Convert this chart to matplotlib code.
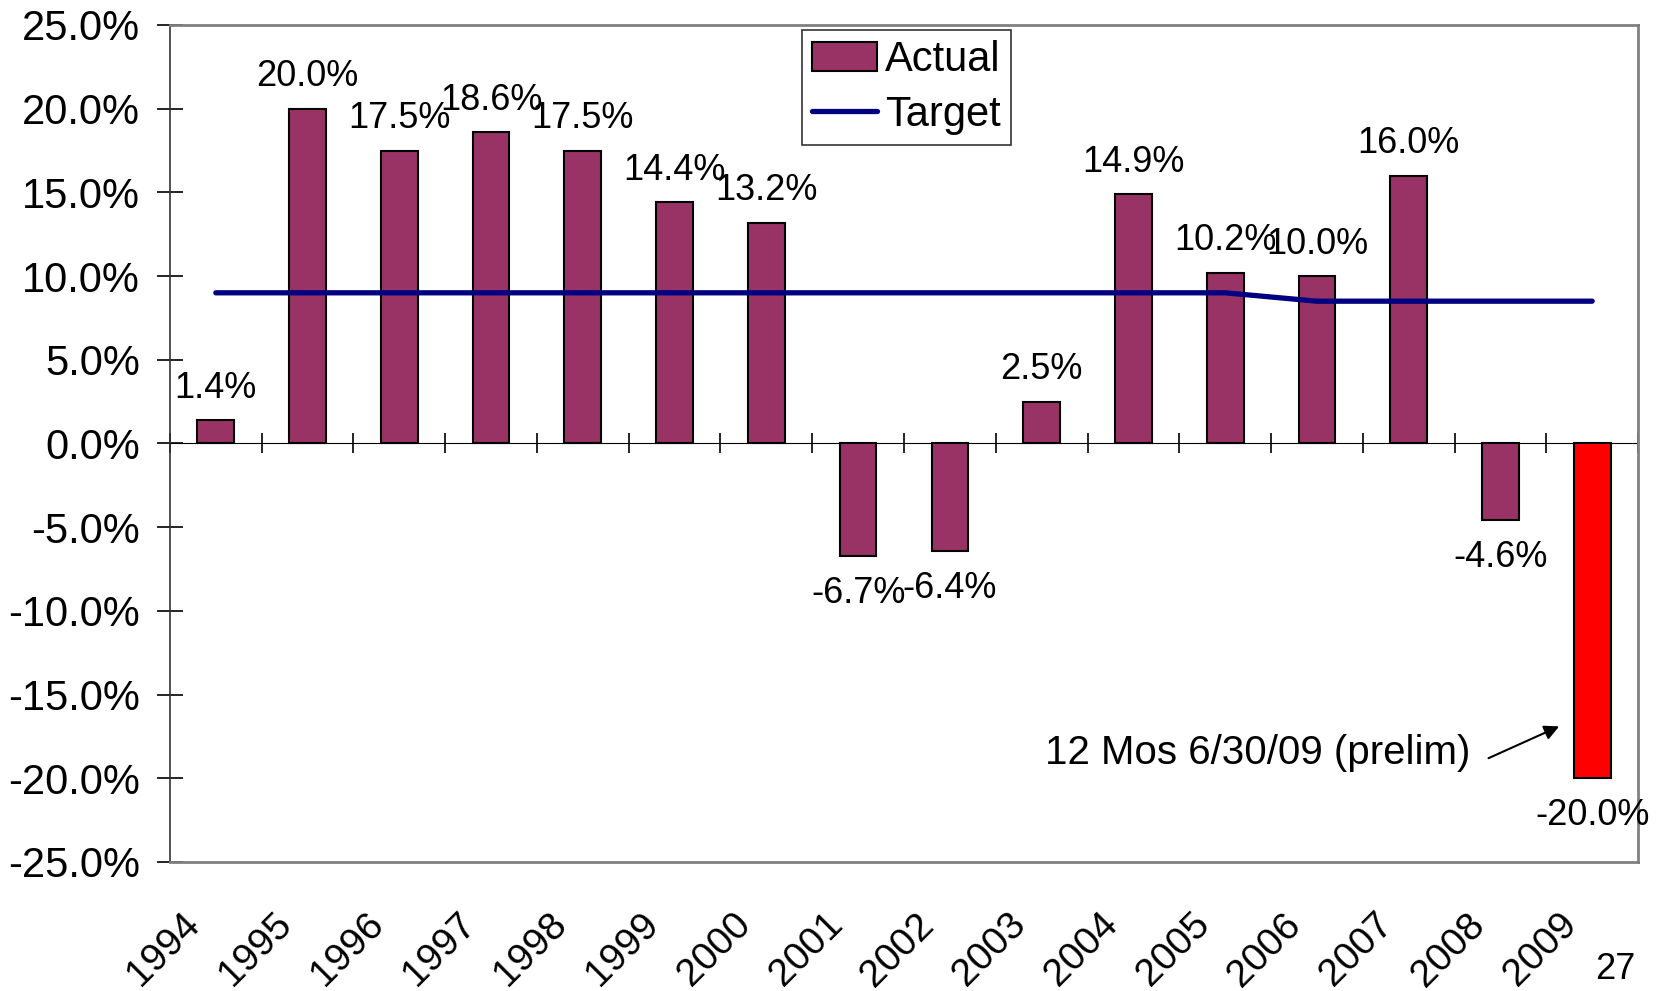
import numpy as np
import matplotlib
matplotlib.use("Agg")
import matplotlib.pyplot as plt
import matplotlib.transforms as mtransforms
from matplotlib.ticker import FuncFormatter

plt.rcParams['font.family'] = ['Liberation Sans', 'DejaVu Sans']

years = ['1994', '1995', '1996', '1997', '1998', '1999', '2000', '2001',
         '2002', '2003', '2004', '2005', '2006', '2007', '2008', '2009']
actual = [1.4, 20.0, 17.5, 18.6, 17.5, 14.4, 13.2, -6.7,
          -6.4, 2.5, 14.9, 10.2, 10.0, 16.0, -4.6, -20.0]
target = [9.0, 9.0, 9.0, 9.0, 9.0, 9.0, 9.0, 9.0,
          9.0, 9.0, 9.0, 9.0, 8.5, 8.5, 8.5, 8.5]

x = np.arange(len(years))
colors = ['#993366'] * (len(years) - 1) + ['#FF0000']

fig = plt.figure(figsize=(16.61, 9.91), dpi=100)
ax = fig.add_axes([0.1023, 0.1302, 0.8839, 0.8446])

bars = ax.bar(x, actual, width=0.4, color=colors, edgecolor='black', lw=1.5,
              label='Actual', zorder=2)
line, = ax.plot(x, target, color='#000080', lw=3.8, solid_capstyle='round',
                label='Target', zorder=3)

# data labels
for xi, v in zip(x, actual):
    off = 23 if v >= 0 else -27
    ax.annotate('%.1f%%' % v, (xi, v), xytext=(0, off), textcoords='offset points',
                ha='center', va='center', fontsize=26)

ax.set_xlim(-0.5, len(years) - 0.5)
ax.set_ylim(-25, 25)
ax.set_yticks(np.arange(-25, 26, 5))
ax.yaxis.set_major_formatter(FuncFormatter(lambda v, p: '%.1f%%' % v))
ax.tick_params(axis='y', direction='inout', length=19, width=1.2, labelsize=30, pad=12)

# year labels along the bottom
ax.set_xticks(x)
ax.set_xticklabels(years, rotation=45, ha='right', rotation_mode='anchor', fontsize=28)
ax.tick_params(axis='x', length=0, pad=32)
shift = mtransforms.ScaledTranslation(-0.34, 0, fig.dpi_scale_trans)
for lab in ax.get_xticklabels():
    lab.set_transform(lab.get_transform() + shift)

for s in ['top', 'right', 'bottom']:
    ax.spines[s].set_color('#808080')
    ax.spines[s].set_linewidth(2)
ax.spines['left'].set_color('#333333')
ax.spines['left'].set_linewidth(1.2)

# category axis at zero with tick marks between bars
sec = ax.secondary_xaxis(0.5)
sec.set_xticks(np.arange(-0.5, len(years), 1.0))
sec.set_xticklabels([])
sec.tick_params(direction='inout', length=15, width=1.2)
sec.spines['bottom'].set_color('black')
sec.spines['bottom'].set_linewidth(1.2)

leg = ax.legend([bars, line], ['Actual', 'Target'], loc='upper left',
                bbox_to_anchor=(0.4828, 0.9697), bbox_transform=fig.transFigure,
                fontsize=30, frameon=True, fancybox=False, borderpad=0.25,
                handlelength=1.55, handletextpad=0.2, labelspacing=0.35, borderaxespad=0)
leg.get_frame().set_edgecolor('black')
leg.get_frame().set_linewidth(1.2)

ax.text(13.67, -18.5, '12 Mos 6/30/09 (prelim)', ha='right', va='center', fontsize=29)
ax.annotate('', xy=(14.64, -16.9), xytext=(13.87, -18.8),
            arrowprops=dict(arrowstyle='-|>', color='black', lw=1.5, mutation_scale=22,
                            shrinkA=0, shrinkB=0))

fig.text(0.9723, 0.022, '27', ha='center', va='center', fontsize=26)

fig.savefig('out.png', dpi=100)
